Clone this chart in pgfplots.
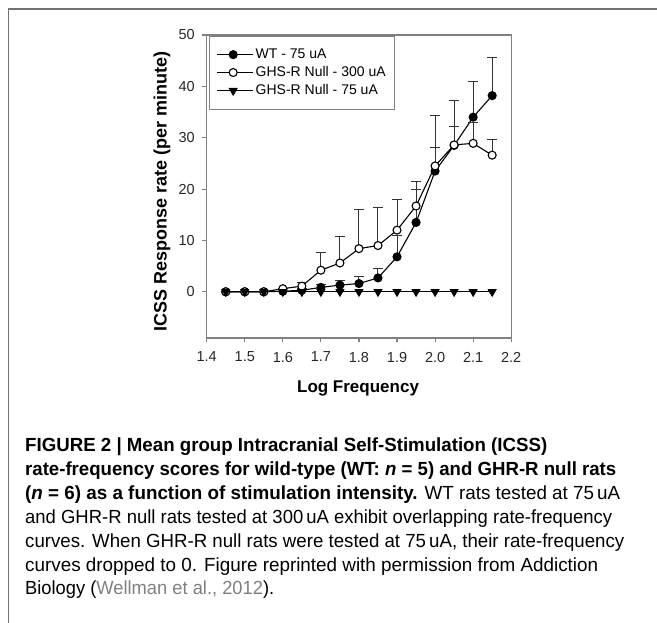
\documentclass[border=0pt]{standalone}
\usepackage{pgfplots}
\pgfplotsset{compat=1.18}
\usepackage{pgfplotstable}
\usepackage{fontspec}
\setmainfont{Liberation Sans}
\usepackage{graphicx}

\pgfplotstableread{
x    y     e
1.45 0     0
1.50 0     0
1.55 0     0
1.60 0.1   0
1.65 0.3   0.3
1.70 0.85  0.6
1.75 1.3   0.8
1.80 1.6   1.3
1.85 2.7   1.8
1.90 6.8   4.2
1.95 13.5  6.4
2.00 23.5  4.5
2.05 28.5  8.7
2.10 34.0  6.9
2.15 38.2  7.5
}\wt
\pgfplotstableread{
x    y     e
1.45 0     0
1.50 0     0
1.55 0     0
1.60 0.6   0
1.65 1.1   0.7
1.70 4.2   3.4
1.75 5.6   5.1
1.80 8.4   7.6
1.85 9.0   7.5
1.90 12.0  6.0
1.95 16.7  4.7
2.00 24.5  9.9
2.05 28.6  3.5
2.10 28.9  4.0
2.15 26.6  3.1
}\nullhigh
\pgfplotstableread{
x    y
1.45 0
1.50 0
1.55 0
1.60 0
1.65 0
1.70 0
1.75 0
1.80 0
1.85 0
1.90 0
1.95 0
2.00 0
2.05 0
2.10 0
2.15 0
}\nulllow

\begin{document}
\begin{tikzpicture}[x=1bp,y=1bp]
\useasboundingbox (0,0) rectangle (657,623);
\draw[black!55, line width=1.3bp] (8.5,-10) -- (8.5,614) -- (670,614);
\begin{axis}[
  at={(206.7bp,285bp)}, anchor=south west,
  scale only axis, width=304.5bp, height=303bp,
  xmin=1.4, xmax=2.2, ymin=-9, ymax=50,
  xtick={1.4,1.5,1.6,1.7,1.8,1.9,2.0,2.1,2.2},
  ytick={0,10,20,30,40,50},
  tick align=outside, tick pos=left, major tick length=4.5bp,
  axis line style={black!50, line width=1.1bp},
  every tick/.style={black!50, line width=1.1bp},
  /pgf/number format/assume math mode=true,
  tick label style={font=\fontsize{14.5bp}{17bp}\selectfont, text=black!85},
  xticklabel style={yshift=-6bp, /pgf/number format/.cd, fixed, fixed zerofill, precision=1},
  yticklabel style={xshift=-4bp},
  xlabel={Log Frequency},
  ylabel={ICSS Response rate (per minute)},
  xlabel style={font=\bfseries\fontsize{17bp}{20bp}\selectfont, at={(axis description cs:0.497,-0.165)}, anchor=center},
  ylabel style={font=\bfseries\fontsize{18bp}{21bp}\selectfont, at={(axis description cs:-0.147,0.485)}, anchor=center},
  legend cell align=left,
  legend style={at={(rel axis cs:0.008,0.998)}, anchor=north west,
    draw=black!50, line width=1bp, font=\fontsize{14bp}{17bp}\selectfont,
    inner xsep=7bp, inner ysep=11bp, row sep=2.5bp},
  legend image code/.code={\path (0bp,0bp) -- (36bp,0bp);\draw[mark repeat=2,mark phase=2] plot coordinates {(0bp,0bp) (16bp,0bp) (32bp,0bp)};},
  error bars/error bar style={black!80, line width=1bp},
  error bars/error mark options={rotate=90, black!80, mark size=4.7bp, line width=1bp},
]
\addplot[black, line width=1.1bp, mark=*, mark size=4bp, mark options={fill=black},
  error bars/.cd, y dir=plus, y explicit] table[x=x, y=y, y error=e] {\wt};
\addlegendentry{WT - 75 uA}
\addplot[black, line width=1.1bp, mark=*, mark size=4bp, mark options={fill=white},
  error bars/.cd, y dir=plus, y explicit] table[x=x, y=y, y error=e] {\nullhigh};
\addlegendentry{GHS-R Null - 300 uA}
\addplot[black, line width=1.1bp, mark=triangle*, mark size=4.3bp, mark options={rotate=180, fill=black}]
  table[x=x, y=y] {\nulllow};
\addlegendentry{GHS-R Null - 75 uA}
\end{axis}
\begin{scope}[every node/.style={anchor=base west, inner sep=0pt, font=\fontsize{19bp}{22bp}\selectfont}]
\node at (25,171.0) {\resizebox{522bp}{\height}{\textbf{FIGURE 2 | Mean group Intracranial Self-Stimulation (ICSS)}}};
\node at (25,147.2) {\resizebox{591bp}{\height}{\textbf{rate-frequency scores for wild-type (WT: \textit{n} = 5) and GHR-R null rats}}};
\node at (25,123.3) {\resizebox{595bp}{\height}{\textbf{(\textit{n} = 6) as a function of stimulation intensity.} WT rats tested at 75\,uA}};
\node at (25,99.5) {\resizebox{587bp}{\height}{and GHR-R null rats tested at 300\,uA exhibit overlapping rate-frequency}};
\node at (25,75.7) {\resizebox{599bp}{\height}{curves. When GHR-R null rats were tested at 75\,uA, their rate-frequency}};
\node at (25,51.8) {\resizebox{573bp}{\height}{curves dropped to 0. Figure reprinted with permission from Addiction}};
\node at (25,28.0) {\resizebox{249bp}{\height}{Biology (\textcolor{black!50}{Wellman et al., 2012}).}};
\end{scope}
\end{tikzpicture}
\end{document}
